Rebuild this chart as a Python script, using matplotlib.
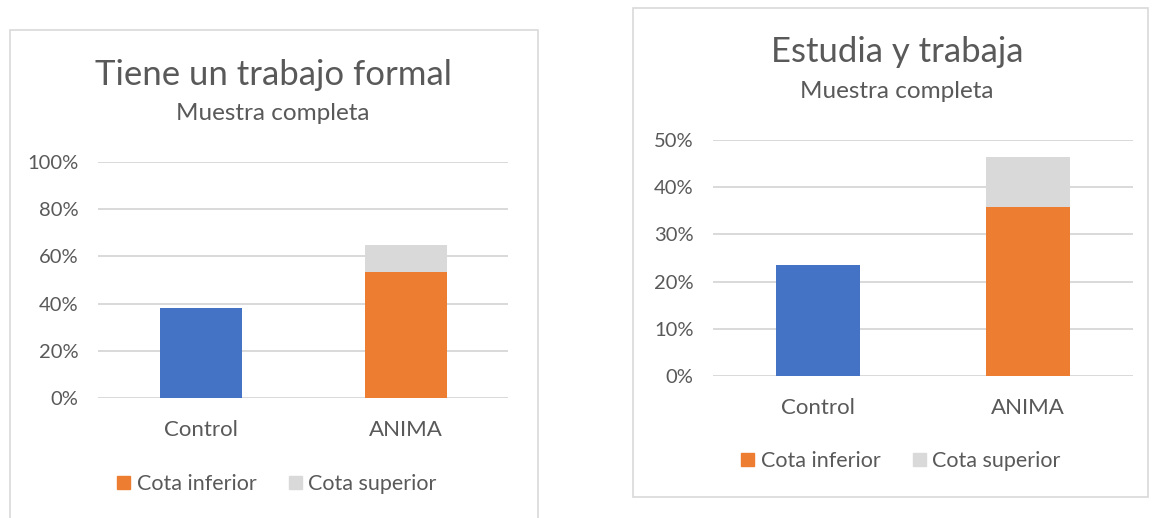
import matplotlib
matplotlib.use('Agg')
import matplotlib.pyplot as plt
from matplotlib.patches import Rectangle, Patch
from matplotlib.ticker import PercentFormatter

W, H = 1159, 518

categories = ['Control', 'ANIMA']

# Tiene un trabajo formal
formal_lower = [0.382, 0.535]
formal_upper = [0.0, 0.114]
formal_ticks = [0, 0.2, 0.4, 0.6, 0.8, 1.0]

# Estudia y trabaja
estudia_lower = [0.235, 0.358]
estudia_upper = [0.0, 0.105]
estudia_ticks = [0, 0.1, 0.2, 0.3, 0.4, 0.5]

BLUE = '#4472C4'
ORANGE = '#ED7D31'
GREY = '#D9D9D9'
TXT = '#595959'
FONT = 'Lato'

plt.rcParams['font.family'] = [FONT, 'DejaVu Sans']


def px_axes(fig, x0, x1, ytop, ybot):
    return fig.add_axes([x0 / W, 1 - ybot / H, (x1 - x0) / W, (ybot - ytop) / H])


def fx(x):
    return x / W


def fy(y):
    return 1 - y / H


def draw_panel(fig, box, ax_px, lower, upper, ticks, title, title_xy, sub_y,
               cat_y, leg_xy):
    bx0, by0, bx1, by1 = box
    fig.patches.append(Rectangle((fx(bx0), fy(by1)), fx(bx1 - bx0), (by1 - by0) / H,
                                 transform=fig.transFigure, facecolor='none',
                                 edgecolor=GREY, linewidth=1.2, zorder=0))
    ax = px_axes(fig, *ax_px)
    x = range(len(categories))
    ax.bar(x, lower, 0.4, color=[BLUE, ORANGE], zorder=3)
    ax.bar(x, upper, 0.4, bottom=lower, color=GREY, zorder=3)
    ax.set_xlim(-0.5, 1.5)
    ax.set_ylim(ticks[0], ticks[-1])
    ax.set_yticks(ticks)
    ax.yaxis.set_major_formatter(PercentFormatter(1.0, decimals=0))
    ax.set_xticks([])
    ax.set_facecolor('none')
    for s in ax.spines.values():
        s.set_visible(False)
    ax.tick_params(axis='y', length=0, pad=14, labelsize=14.5, labelcolor=TXT)
    ax.grid(axis='y', color=GREY, linewidth=1.4, zorder=0)
    ax.set_axisbelow(True)

    fig.text(fx(title_xy[0]), fy(title_xy[1]), title, ha='center', va='center',
             fontsize=25, color=TXT)
    fig.text(fx(title_xy[0]), fy(sub_y), 'Muestra completa', ha='center',
             va='center', fontsize=17.5, color=TXT)
    for i, c in enumerate(categories):
        ax.text(i, -(cat_y - ax_px[3]) / (ax_px[3] - ax_px[2]), c,
                transform=ax.get_xaxis_transform(), ha='center',
                va='center', fontsize=16, color=TXT)

    handles = [Patch(color=ORANGE, label='Cota inferior'),
               Patch(color=GREY, label='Cota superior')]
    fig.legend(handles=handles, loc='center', ncol=2, frameon=False,
               bbox_to_anchor=(fx(leg_xy[0]), fy(leg_xy[1])), fontsize=15.5,
               handlelength=0.6, handleheight=0.6, handletextpad=0.3,
               columnspacing=1.5, labelcolor=TXT)
    return ax


fig = plt.figure(figsize=(W / 100, H / 100), dpi=100)

draw_panel(fig, (10, 30, 538, 540), (98, 508, 162, 398),
           formal_lower, formal_upper, formal_ticks,
           'Tiene un trabajo formal', (273, 75), 114, 430, (277, 484))
draw_panel(fig, (633, 8, 1148, 497), (713, 1133, 140, 376),
           estudia_lower, estudia_upper, estudia_ticks,
           'Estudia y trabaja', (897, 52), 92, 408, (901, 461))

fig.savefig('out.png', dpi=100, facecolor='white')
